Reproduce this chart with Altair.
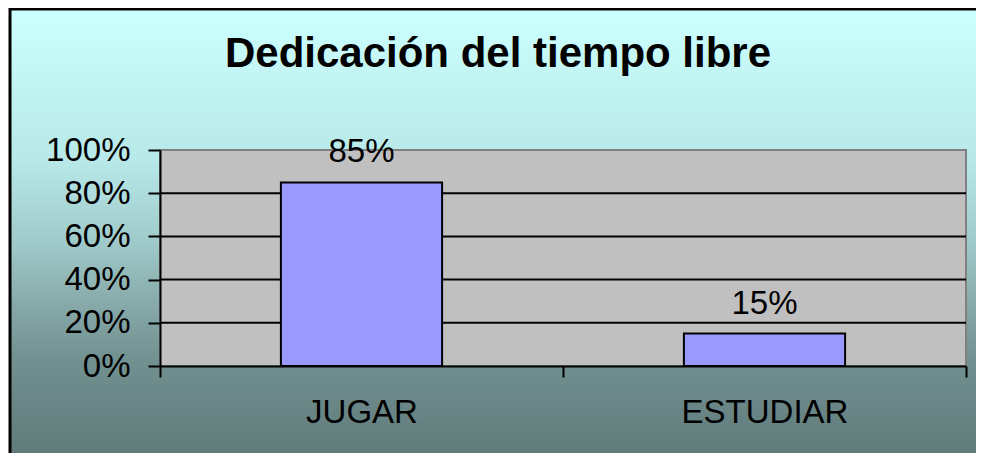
import altair as alt
import pandas as pd

# ---- data ----
categories = ["JUGAR", "ESTUDIAR"]
shares = [0.85, 0.15]
y_ticks = [0, 0.2, 0.4, 0.6, 0.8, 1.0]
grid_values = [0.2, 0.4, 0.6, 0.8]
title_text = "Dedicación del tiempo libre"

df = pd.DataFrame({"actividad": categories, "valor": shares})
grid_df = pd.DataFrame({"g": grid_values})
one = pd.DataFrame({"k": [0]})

FONT = "Arial, Liberation Sans, sans-serif"
W, H = 806, 216

gradient = {
    "gradient": "linear", "x1": 0, "y1": 0, "x2": 0, "y2": 1,
    "stops": [
        {"offset": 0.0, "color": "#CCFFFF"},
        {"offset": 0.333, "color": "#B8E8E8"},
        {"offset": 0.509, "color": "#A0CACA"},
        {"offset": 0.641, "color": "#88AAAA"},
        {"offset": 0.773, "color": "#719090"},
        {"offset": 1.0, "color": "#5F7777"},
    ],
}

background = alt.Chart(one).mark_rect(
    fill=gradient, stroke="black", strokeWidth=3
).encode(
    x=alt.value(-150), x2=alt.value(W + 40),
    y=alt.value(-141), y2=alt.value(H + 100),
)

plot_bg = alt.Chart(one).mark_rect(
    fill="#C0C0C0", stroke="#808080", strokeWidth=2
).encode(
    x=alt.value(0), x2=alt.value(W), y=alt.value(0), y2=alt.value(H)
)

yscale = alt.Scale(domain=[0, 1], nice=False, zero=True)
xscale = alt.Scale(domain=categories, paddingInner=0, paddingOuter=0)
yaxis = alt.Axis(title=None, values=y_ticks, format=".0%", labelFontSize=33,
                 tickSize=12, labelPadding=18, grid=False, zindex=1)
xaxis = alt.Axis(title=None, labelAngle=0, tickBand="extent", labelFontSize=33,
                 tickSize=11, labelPadding=19, zindex=1)

grid = alt.Chart(grid_df).mark_rule(color="black", strokeWidth=2).encode(
    y=alt.Y("g:Q", scale=yscale, axis=yaxis)
)

bars = alt.Chart(df).mark_bar(
    fill="#9999FF", stroke="black", strokeWidth=2,
    width=alt.RelativeBandSize(0.4),
).encode(
    x=alt.X("actividad:N", sort=categories, scale=xscale, axis=xaxis),
    y=alt.Y("valor:Q", scale=yscale, axis=yaxis),
)

labels = alt.Chart(df).mark_text(
    baseline="alphabetic", align="center", dy=-20, fontSize=33, font=FONT, color="black"
).encode(
    x=alt.X("actividad:N", sort=categories, scale=xscale, axis=xaxis),
    y=alt.Y("valor:Q", scale=yscale, axis=yaxis),
    text=alt.Text("valor:Q", format=".0%"),
)

title = alt.Chart(one).mark_text(
    baseline="alphabetic", align="center", fontSize=42, fontWeight="bold",
    font=FONT, color="black"
).encode(
    x=alt.value(338), y=alt.value(-83), text=alt.value(title_text)
)

chart = alt.layer(background, plot_bg, grid, bars, labels, title).properties(
    width=W, height=H,
    autosize="none",
    padding={"left": 152, "top": 142, "right": 10, "bottom": 87},
).configure_view(stroke=None).configure_axis(
    labelFont=FONT, labelFontSize=30, labelColor="black",
    domainColor="black", domainWidth=2, tickColor="black", tickWidth=2,
)

chart.save("out.html", embed_options={"renderer": "svg", "actions": False})
